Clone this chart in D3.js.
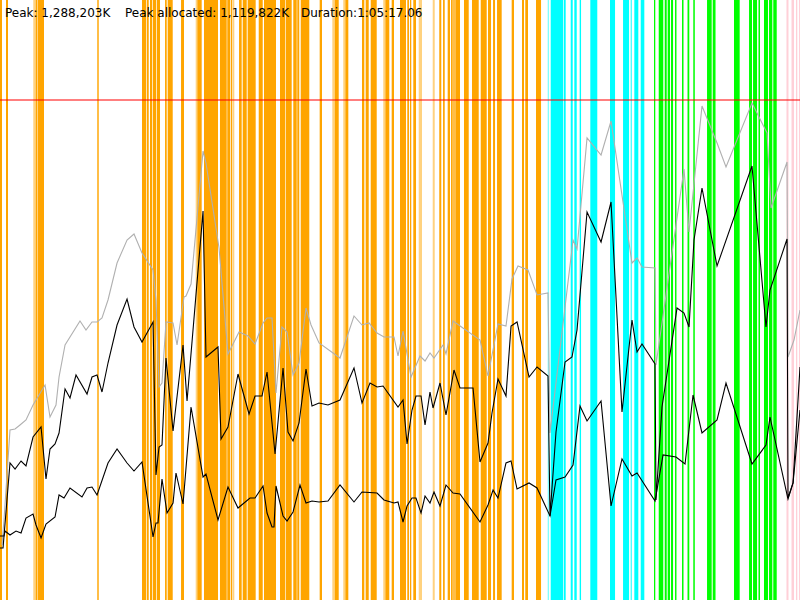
<!DOCTYPE html>
<html>
<head>
<meta charset="utf-8">
<script src="https://cdn.jsdelivr.net/npm/d3@7"></script>
<style>
  html, body { margin: 0; padding: 0; background: #fff; }
  svg { display: block; }
</style>
</head>
<body>
<svg id="chart" width="800" height="600"></svg>
<script>
// ---- Data (time as % of run duration, memory as % of peak) ----
const peakK = 1288203;
const peakAllocatedK = 1119822;
const durationLabel = "1:05:17.06";
const limitPercent = 100;

// activity bands: [start %, end %, kind]
const bands = [
  [0,0.25,"o"],[0.75,1,"o"],[4.16,4.41,"ol"],[4.44,4.66,"o"],[4.71,5.5,"o"],[12.16,12.34,"o"],
  [17.75,18.25,"o"],[18.34,18.59,"o"],[18.75,19,"o"],[19.09,19.5,"o"],[19.59,20,"o"],
  [20.63,20.84,"o"],[20.96,21.59,"o"],[22.63,23,"o"],[24.46,24.66,"ol"],[24.66,25.21,"o"],
  [25.5,27.25,"o"],[27.5,28.34,"o"],[28.41,28.75,"o"],[28.84,29,"o"],[29.04,29.29,"ol"],
  [29.88,30.21,"o"],[30.34,30.84,"o"],[30.96,31.96,"o"],[32.34,32.84,"o"],[33,34.5,"o"],
  [35,35.63,"o"],[35.71,36.46,"o"],[36.66,37.09,"o"],[37.16,37.41,"o"],[37.59,38.66,"o"],
  [39.96,40.25,"o"],[41.54,41.84,"ol"],[41.84,42.34,"o"],[42.91,43.13,"ol"],[43.16,43.54,"o"],
  [45.25,45.54,"o"],[45.71,46.09,"o"],[46.34,47.09,"o"],[47.91,48.13,"ol"],[48.16,48.66,"o"],
  [48.96,49.25,"o"],[50,50.75,"o"],[50.91,51.13,"o"],[51.25,51.41,"o"],[51.66,52,"o"],
  [52.34,52.75,"ol"],[54.09,54.34,"ol"],[54.91,55.16,"o"],[55.38,55.59,"o"],[55.96,56.25,"o"],
  [56.38,56.59,"o"],[56.66,56.84,"o"],[56.91,57.5,"o"],[58,58.59,"o"],[59,59.84,"o"],
  [60.09,60.84,"o"],[61,61.38,"o"],[61.63,61.88,"o"],[62.13,62.71,"o"],[63.96,64.25,"o"],
  [65.25,65.5,"o"],[65.66,66,"o"],[67,67.63,"o"],
  [68.46,68.63,"cl"],[68.84,70.41,"c"],[70.5,70.71,"c"],[71.34,71.59,"c"],[71.79,72.09,"c"],
  [72.46,72.63,"c"],[73.79,74.66,"c"],[76.25,76.88,"c"],[77.88,78.63,"c"],[78.84,78.96,"c"],
  [79.29,79.79,"c"],[80.09,80.54,"c"],
  [81.75,81.91,"g"],[82.34,82.91,"g"],[83.09,83.34,"g"],[83.46,83.75,"g"],[83.88,84.13,"g"],
  [84.38,84.56,"g"],[85.25,85.44,"g"],[85.94,86.16,"g"],[86.66,86.85,"g"],[88.38,88.96,"g"],
  [89.09,89.44,"g"],[91.75,92.46,"g"],[93.63,94,"g"],[94.13,94.63,"g"],[94.81,95,"g"],
  [95.5,96,"g"],[96.13,96.54,"g"],[96.66,97.09,"g"],
  [98.31,98.56,"p"],[98.94,99.25,"p"],[99.5,99.66,"p"],[99.88,100,"p"]
];

// memory series: [time %, memory % of peak]
const peakSeries = [
  [0.25,11],[0.5,16],[1.25,34],[1.88,34.2],[2.5,35],[3.25,36],[4.13,39],[5.63,43],[6.25,36.6],
  [7,39],[7.38,44.6],[8.13,51],[10,55.8],[10.75,54],[11.5,55.6],[12.13,55.6],[12.75,56.4],
  [13.5,60],[14.63,67.4],[15.88,72],[16.75,73.2],[17.75,69.4],[19.13,66],[19.5,60],[19.88,42.6],
  [20.25,43.4],[20.75,55.6],[21.63,55.4],[22.13,51],[23,60.6],[23.25,60.8],[23.88,63.2],
  [25.38,89.8],[25.75,87.4],[27.38,70.4],[28.5,49.2],[29.88,53.6],[31,52.8],[31.88,51.2],
  [32.88,55.4],[33.38,56.4],[34,56.4],[34.5,41.4],[35.25,54.6],[35.88,53.6],[36.63,45],
  [37.38,47.4],[38.25,58.4],[38.88,55],[39.88,51.4],[42.5,48.4],[44.25,56.8],[45.25,55],
  [46.13,55.4],[47.13,53.4],[48,52.6],[49.25,52.6],[49.75,48.8],[50.38,53.8],[51.38,44.6],
  [52.5,48.8],[53.13,47.8],[53.75,49.4],[54.25,48.4],[55.38,51],[55.75,49.2],[56.63,55.8],
  [60,52],[61,44.8],[62.25,55.2],[63.25,54.8],[64,64.2],[64.75,66.8],[66,66],[67.13,61],
  [68.5,61.4],[68.75,33.4],[71.63,72],[72.13,70.2],[73.38,92.4],[75.13,89],[76.38,95.8],
  [79,67.4],[79.63,68.4],[80.25,66.6],[81.88,66.4],[82,47],[85.5,86.2],[86.13,73.6],
  [87.75,98.8],[89.63,91.4],[90.75,86.6],[94,99.4],[95.88,93.4],[96.38,78.4],[98.38,87.6],
  [98.5,48.6],[99.25,52],[100,58]
];

const allocatedSeries = [
  [0,10.4],[0.38,10.4],[1.25,27.4],[1.88,26.2],[2.63,27.8],[3.25,26.8],[4.13,32.6],[5.13,34.6],
  [5.75,24.2],[6.25,30.2],[6.88,31.2],[7.38,33.4],[8.13,42.2],[8.75,40.4],[9.5,45],[10.88,41.2],
  [11.5,44.6],[12.13,45],[12.75,41.6],[13.5,47.4],[14.63,55],[15.88,60.2],[16.75,54.6],
  [17.75,51.6],[19.13,55.6],[19.5,25],[19.88,30.6],[20.25,31],[20.75,48.4],[21.63,33.8],
  [22.88,51],[23.38,39.8],[25.38,77.8],[25.75,48.6],[27.25,50.6],[27.63,32.2],[28.5,34.6],
  [29.75,45.2],[31.13,37.2],[31.88,40.8],[32.75,40.8],[33.38,45.6],[34.38,29.2],[35.38,46.4],
  [36,33.6],[36.63,31.8],[37.38,35.4],[38.25,46.2],[39,38.8],[39.88,39.4],[41,39],[42.5,40],
  [44.25,46.4],[45.25,39.4],[46.25,43.4],[47.13,42.6],[47.88,42.8],[49.75,38.6],[50.38,40],
  [50.88,31.2],[51.5,38],[52,40.8],[52.63,40.8],[53.13,35],[53.75,41.6],[54.13,38.4],[55,43.4],
  [55.75,37],[56.75,46],[57.5,42.4],[59.13,42.4],[60,27.6],[61,31.4],[61.5,37.4],[62.25,44.2],
  [63.25,40.8],[63.88,54.8],[64.63,55.6],[66.13,44.6],[67.13,46.6],[68.5,44.8],[68.75,16.8],
  [69.5,33.6],[70.63,47.6],[71.5,48.6],[72.13,54],[73.38,77.6],[75.13,71.6],[76.38,79.6],
  [77.75,37.6],[79,56],[79.63,49.6],[80.25,51.2],[81.88,47.2],[82,20],[82.75,38.6],[84.63,58.4],
  [85.5,57.4],[86.13,54.6],[86.75,72],[87.75,82.4],[89.63,66.8],[94,86.8],[95.75,54.6],
  [96.25,62],[98.38,72.2],[98.5,20.4],[99.13,23.4],[100,46.6]
];

const baseSeries = [
  [0,12.8],[0.5,12.8],[0.63,13.8],[1.25,13],[2,13.8],[2.63,13.4],[3.25,16.4],[4.13,17.2],
  [4.5,15],[5.13,12.4],[5.75,15.2],[6.88,16.6],[7.38,21],[8,20.4],[8.75,22.4],[10.25,20.6],
  [10.88,22.4],[11.5,22.6],[12.13,21],[13.5,27.4],[14.63,30.2],[15.88,27.4],[16.75,25.8],
  [17.75,27.6],[19.13,12.6],[19.5,15.4],[19.75,15.4],[20.25,24.2],[20.88,17.4],[21.63,19.4],
  [22,25.4],[22.88,19.2],[23.88,38.6],[25.38,24.6],[25.75,25.2],[27.25,16],[28.5,22.6],
  [29.75,18.4],[31.25,20.4],[31.88,20.4],[32.88,22.8],[33.38,17.4],[34,14.6],[34.25,14.6],
  [34.5,22.8],[35.38,16.8],[35.88,15.8],[36.63,17.6],[37.5,23],[38.25,19.4],[39,19.8],
  [39.88,19.6],[41,19.8],[42.5,23],[44.25,19.6],[45.25,21.6],[47.13,21.4],[48,20],[49.25,19.4],
  [49.75,19.6],[50.38,15.6],[50.88,18.8],[51.5,20.4],[52,20.4],[52.63,17.4],[53.13,20.8],
  [53.75,19.4],[54.25,21.6],[55,18.8],[55.75,23],[56.63,21.4],[57.5,21.2],[60,15.6],[61,19],
  [61.63,22],[62.25,20.4],[63.25,27.4],[63.88,27.8],[64.63,22.2],[66.13,23.4],[67.13,22.4],
  [68.75,16.8],[69.5,24],[70.63,24.6],[71.63,27],[72.5,38.8],[73.38,35.8],[75.13,39.8],
  [76.38,18.8],[77.75,28.2],[79,24.8],[79.63,25.4],[81.88,19.8],[82.88,29],[84.5,28.6],
  [85.63,27.2],[86.63,41],[87.75,33.4],[89.63,36],[90.75,43.4],[94,27.2],[95.75,31],
  [96.25,36.6],[98.5,20.2],[99.13,23.4],[100,38]
];

// ---- Drawing ----
const W = 800, H = 600;
const svg = d3.select("#chart");

const x = d3.scaleLinear().domain([0, 100]).range([0, W]);
const y = d3.scaleLinear().domain([0, 120]).range([H, 0]);

const bandColor = d3.scaleOrdinal()
  .domain(["o", "ol", "c", "cl", "g", "p"])
  .range(["#FFA500", "#FFD27F", "#00FFFF", "#80FFFF", "#00FF00", "#FFD0D8"]);

svg.append("rect").attr("width", W).attr("height", H).attr("fill", "#fff");

svg.append("g").selectAll("rect")
  .data(bands)
  .join("rect")
  .attr("x", d => x(d[0]))
  .attr("width", d => Math.max(0.6, x(d[1]) - x(d[0])))
  .attr("y", 0)
  .attr("height", H)
  .attr("fill", d => bandColor(d[2]));

const line = d3.line().x(d => x(d[0])).y(d => y(d[1]));

svg.append("path").datum(peakSeries)
  .attr("d", line).attr("fill", "none")
  .attr("stroke", "#b0b0b0").attr("stroke-width", 1.1);

svg.append("path").datum(allocatedSeries)
  .attr("d", line).attr("fill", "none")
  .attr("stroke", "#000").attr("stroke-width", 1.1);

svg.append("path").datum(baseSeries)
  .attr("d", line).attr("fill", "none")
  .attr("stroke", "#000").attr("stroke-width", 1.1);

svg.append("line")
  .attr("x1", 0).attr("x2", W)
  .attr("y1", y(limitPercent)).attr("y2", y(limitPercent))
  .attr("stroke", "rgba(255,0,0,0.5)").attr("stroke-width", 2);

const fmt = d3.format(",");
const header = [
  "Peak: " + fmt(peakK) + "K",
  "Peak allocated: " + fmt(peakAllocatedK) + "K",
  "Duration:" + durationLabel
];
const headerX = [5, 125, 301];
svg.append("g").selectAll("text")
  .data(header)
  .join("text")
  .attr("x", (d, i) => headerX[i])
  .attr("y", 17)
  .attr("font-family", "DejaVu Sans, sans-serif")
  .attr("font-size", 12)
  .attr("fill", "#000")
  .text(d => d);
</script>
</body>
</html>
